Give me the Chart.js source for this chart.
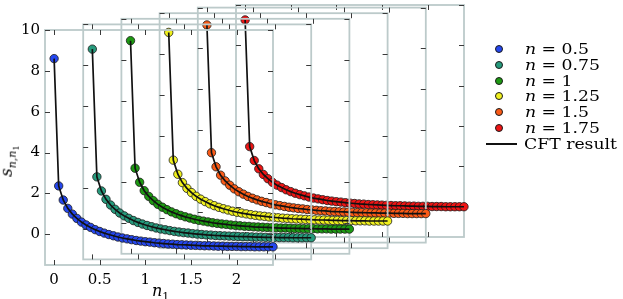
<!DOCTYPE html>
<html><head><meta charset="utf-8">
<script src="https://cdn.jsdelivr.net/npm/chart.js@4/dist/chart.umd.min.js"></script>
<style>
html,body{margin:0;padding:0;background:#fff;}
#wrap{position:relative;width:623px;height:299px;overflow:hidden;background:#fff;font-family:"DejaVu Serif",serif;color:#000;}
.layer{position:absolute;left:0;top:0;width:623px;height:299px;}
.lab{position:absolute;white-space:nowrap;font-family:"DejaVu Serif",serif;}
.mk{position:absolute;width:8px;height:8px;border-radius:50%;border:0.8px solid #1a1a1a;box-sizing:border-box;}
</style></head>
<body>
<div id="wrap"></div>
<script>
// ---- data ----
const n1Values = [0,0.05,0.1,0.15,0.2,0.25,0.3,0.35,0.4,0.45,0.5,0.55,0.6,0.65,0.7,0.75,0.8,0.85,0.9,0.95,1,1.05,1.1,1.15,1.2,1.25,1.3,1.35,1.4,1.45,1.5,1.55,1.6,1.65,1.7,1.75,1.8,1.85,1.9,1.95,2,2.05,2.1,2.15,2.2,2.25,2.3,2.35,2.4];
const nLabels = ['0.5','0.75','1','1.25','1.5','1.75'];
const sN050 = [8.60,2.37,1.68,1.27,0.99,0.78,0.60,0.46,0.34,0.23,0.14,0.06,-0.01,-0.07,-0.13,-0.18,-0.22,-0.26,-0.30,-0.33,-0.36,-0.38,-0.41,-0.43,-0.45,-0.47,-0.48,-0.50,-0.51,-0.52,-0.53,-0.54,-0.55,-0.56,-0.56,-0.57,-0.58,-0.58,-0.59,-0.59,-0.59,-0.60,-0.60,-0.60,-0.61,-0.61,-0.61,-0.61,-0.61];
const sN075 = [8.79,2.54,1.85,1.44,1.16,0.95,0.77,0.63,0.51,0.40,0.31,0.23,0.16,0.10,0.04,-0.01,-0.05,-0.09,-0.13,-0.16,-0.19,-0.21,-0.24,-0.26,-0.28,-0.30,-0.31,-0.33,-0.34,-0.35,-0.36,-0.37,-0.38,-0.39,-0.39,-0.40,-0.41,-0.41,-0.42,-0.42,-0.42,-0.43,-0.43,-0.43,-0.44,-0.44,-0.44,-0.44,-0.44];
const sN100 = [8.93,2.69,2.00,1.59,1.31,1.10,0.92,0.78,0.66,0.55,0.46,0.38,0.31,0.25,0.19,0.14,0.10,0.06,0.02,-0.01,-0.04,-0.06,-0.09,-0.11,-0.13,-0.15,-0.16,-0.18,-0.19,-0.20,-0.21,-0.22,-0.23,-0.24,-0.24,-0.25,-0.26,-0.26,-0.27,-0.27,-0.27,-0.28,-0.28,-0.28,-0.29,-0.29,-0.29,-0.29,-0.29];
const sN125 = [9.06,2.81,2.12,1.71,1.43,1.22,1.04,0.90,0.78,0.67,0.58,0.50,0.43,0.37,0.31,0.26,0.22,0.18,0.14,0.11,0.08,0.06,0.03,0.01,-0.01,-0.03,-0.04,-0.06,-0.07,-0.08,-0.09,-0.10,-0.11,-0.12,-0.12,-0.13,-0.14,-0.14,-0.15,-0.15,-0.15,-0.16,-0.16,-0.16,-0.17,-0.17,-0.17,-0.17,-0.17];
const sN150 = [9.15,2.90,2.21,1.80,1.52,1.31,1.13,0.99,0.87,0.76,0.67,0.59,0.52,0.46,0.40,0.35,0.31,0.27,0.23,0.20,0.17,0.15,0.12,0.10,0.08,0.06,0.05,0.03,0.02,0.01,0.00,-0.01,-0.02,-0.03,-0.03,-0.04,-0.05,-0.05,-0.06,-0.06,-0.06,-0.07,-0.07,-0.07,-0.08,-0.08,-0.08,-0.08,-0.08];
const sN175 = [9.26,2.98,2.29,1.88,1.60,1.39,1.21,1.07,0.95,0.84,0.75,0.67,0.60,0.54,0.48,0.43,0.39,0.35,0.31,0.28,0.25,0.23,0.20,0.18,0.16,0.14,0.13,0.11,0.10,0.09,0.08,0.07,0.06,0.05,0.05,0.04,0.03,0.03,0.02,0.02,0.02,0.01,0.01,0.01,0.00,0.00,0.00,0.00,0.00];
const xTickValues = [0,0.5,1,1.5,2];
const yTickValues = [0,2,4,6,8,10];

// ---- styles ----
const seriesList = [sN050,sN075,sN100,sN125,sN150,sN175];
const colors = ['#2547ee','#269a7c','#1d9912','#f0f01e','#fa5a16','#ee1414'];
const FRAME = '#bccaca';
const TICK = '#3a3a3a';
const W = 228, H = 235, DX = 38.2, DY = -5.6, L0 = 45, T0 = 30;
const YAXW = 45, XAXH = 299 - (T0 + H);

const framePlugin = {
  id:'frame',
  beforeDatasetsDraw(chart){
    const {ctx, chartArea:a, scales:{x,y}} = chart;
    ctx.save();
    ctx.strokeStyle = FRAME; ctx.lineWidth = 1.8;
    ctx.strokeRect(a.left, a.top, a.width, a.height);
    ctx.strokeStyle = TICK; ctx.lineWidth = 1;
    ctx.beginPath();
    xTickValues.forEach(v=>{
      const px = Math.round(x.getPixelForValue(v)) + 0.5;
      ctx.moveTo(px, a.bottom); ctx.lineTo(px, a.bottom - 5);
      ctx.moveTo(px, a.top); ctx.lineTo(px, a.top + 5);
    });
    yTickValues.forEach(v=>{
      const py = Math.round(y.getPixelForValue(v)) + 0.5;
      ctx.moveTo(a.left, py); ctx.lineTo(a.left + 5, py);
      ctx.moveTo(a.right, py); ctx.lineTo(a.right - 5, py);
    });
    ctx.stroke();
    ctx.restore();
  }
};

const wrap = document.getElementById('wrap');
for (let i = seriesList.length - 1; i >= 0; i--) {
  const div = document.createElement('div');
  div.className = 'layer';
  const cv = document.createElement('canvas');
  cv.width = 623; cv.height = 299;
  cv.style.width = '623px'; cv.style.height = '299px';
  div.appendChild(cv);
  wrap.appendChild(div);
  const L = L0 + DX * i, T = T0 + DY * i;
  const front = (i === 0);
  const pts = n1Values.map((v, k) => ({x: v, y: seriesList[i][k]}));
  new Chart(cv, {
    type: 'scatter',
    data: { datasets: [
      { type:'line', data: pts, showLine:true, borderColor:'#111', borderWidth:1.7, pointRadius:0, fill:false, tension:0, order:0, clip:false },
      { type:'scatter', data: pts, pointRadius:4.2, pointBackgroundColor: colors[i], pointBorderColor:'#1a1a1a', pointBorderWidth:0.8, order:1, clip:false }
    ]},
    options: {
      responsive:false, animation:false, devicePixelRatio:1,
      layout:{ padding:{ left: L - YAXW, top: T, right: 623 - L - W, bottom: 299 - T - H - XAXH } },
      plugins:{ legend:{display:false}, tooltip:{enabled:false} },
      scales:{
        x:{ type:'linear', min:-0.1, max:2.4, display: front,
            grid:{display:false, drawTicks:false}, border:{display:false},
            ticks:{ padding:6, color:'#000', font:{family:'DejaVu Serif', size:15}, maxRotation:0, callback:(v)=>String(v) },
            afterBuildTicks:(s)=>{ s.ticks = xTickValues.map(v=>({value:v})); },
            afterFit:(s)=>{ s.height = XAXH; } },
        y:{ type:'linear', min:-1.5, max:10, display: front,
            grid:{display:false, drawTicks:false}, border:{display:false},
            ticks:{ padding:5, color:'#000', font:{family:'DejaVu Serif', size:15}, callback:(v)=>String(v) },
            afterBuildTicks:(s)=>{ s.ticks = yTickValues.map(v=>({value:v})); },
            afterFit:(s)=>{ s.width = YAXW; } }
      }
    },
    plugins:[framePlugin]
  });
}

// axis titles
const xt = document.createElement('div');
xt.className = 'lab';
xt.style.cssText += 'left:152px;top:281px;font-size:16px;';
xt.innerHTML = '<i>n</i><sub style="font-size:11px">1</sub>';
wrap.appendChild(xt);
const yt = document.createElement('div');
yt.className = 'lab';
yt.style.cssText += 'left:9px;top:161px;font-size:16px;transform:translate(-50%,-50%) rotate(-90deg);';
yt.innerHTML = '<i>s</i><sub style="font-size:11px"><i>n</i>,<i>n</i><sub style="font-size:8px">1</sub></sub>';
wrap.appendChild(yt);

// legend
const rowY0 = 49, rowStep = 15.8;
nLabels.forEach((lab, i) => {
  const cy = rowY0 + rowStep * i;
  const m = document.createElement('div');
  m.className = 'mk';
  m.style.left = '495px'; m.style.top = (cy - 4) + 'px'; m.style.background = colors[i];
  wrap.appendChild(m);
  const t = document.createElement('div');
  t.className = 'lab';
  t.style.cssText += 'left:525px;top:' + (cy - 9) + 'px;font-size:15px;line-height:18px;transform:scaleX(1.15);transform-origin:left center;';
  t.innerHTML = '<i>n</i> = ' + lab;
  wrap.appendChild(t);
});
const cyL = rowY0 + rowStep * 6;
const ln = document.createElement('div');
ln.style.cssText = 'position:absolute;left:486px;top:' + (cyL - 1) + 'px;width:31px;height:2px;background:#111;';
wrap.appendChild(ln);
const lt = document.createElement('div');
lt.className = 'lab';
lt.style.cssText += 'left:524px;top:' + (cyL - 9) + 'px;font-size:15px;line-height:18px;transform:scaleX(1.15);transform-origin:left center;';
lt.textContent = 'CFT result';
wrap.appendChild(lt);
</script>
</body></html>
